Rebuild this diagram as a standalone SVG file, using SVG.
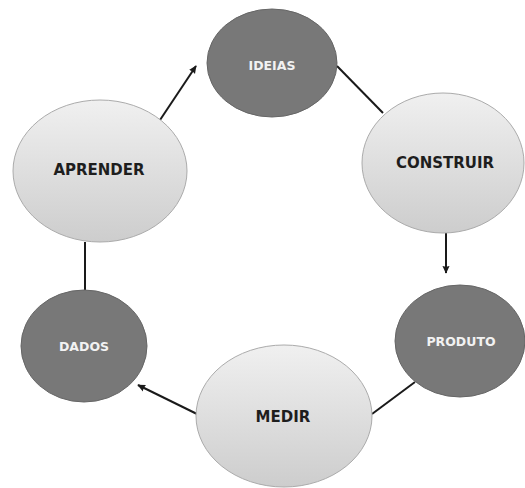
<svg xmlns="http://www.w3.org/2000/svg" width="525" height="488" viewBox="0 0 525 488">
<defs>
<linearGradient id="lg" x1="0" y1="0" x2="0" y2="1">
<stop offset="0" stop-color="#f0f0f0"/>
<stop offset="1" stop-color="#cdcdcd"/>
</linearGradient>
<marker id="ah" viewBox="0 0 10 10" refX="9" refY="5" markerWidth="4" markerHeight="4" orient="auto" markerUnits="strokeWidth">
<path d="M0,0.5 L10,5 L0,9.5 Q2,5 0,0.5 Z" fill="#1a1a1a"/>
</marker>
<style>
.light{fill:url(#lg);stroke:#ababab;stroke-width:1}
.dark{fill:#787878;stroke:#666;stroke-width:1}
.lt{font-family:"DejaVu Sans","Liberation Sans",sans-serif;font-weight:bold;font-size:15px;fill:#1e1e1e;text-anchor:middle;dominant-baseline:central}
.dt{font-family:"DejaVu Sans","Liberation Sans",sans-serif;font-weight:bold;font-size:12.5px;fill:#f2f2f2;text-anchor:middle;dominant-baseline:central}
.c{stroke:#1a1a1a;stroke-width:2;fill:none}
</style>
</defs>
<g id="connectors">
<line class="c" x1="337" y1="66" x2="383" y2="113"/>
<line class="c" x1="446" y1="233" x2="446" y2="273" marker-end="url(#ah)"/>
<line class="c" x1="415" y1="382" x2="372" y2="414"/>
<line class="c" x1="197" y1="414" x2="138" y2="385" marker-end="url(#ah)"/>
<line class="c" x1="85" y1="242" x2="85" y2="290"/>
<line class="c" x1="160" y1="120" x2="196" y2="66" marker-end="url(#ah)"/>
</g>
<g id="ideias">
<ellipse class="dark" cx="272" cy="63" rx="65" ry="54"/>
<text class="dt" x="272" y="65">IDEIAS</text>
</g>
<g id="construir">
<ellipse class="light" cx="443" cy="163" rx="81" ry="70"/>
<text class="lt" x="445" y="163">CONSTRUIR</text>
</g>
<g id="produto">
<ellipse class="dark" cx="460" cy="341" rx="65" ry="56"/>
<text class="dt" x="461" y="341">PRODUTO</text>
</g>
<g id="medir">
<ellipse class="light" cx="284" cy="416" rx="88" ry="71"/>
<text class="lt" x="283" y="417">MEDIR</text>
</g>
<g id="dados">
<ellipse class="dark" cx="84" cy="346" rx="63" ry="56"/>
<text class="dt" x="84" y="346">DADOS</text>
</g>
<g id="aprender">
<ellipse class="light" cx="100" cy="171" rx="87" ry="71"/>
<text class="lt" x="99" y="170">APRENDER</text>
</g>
</svg>
